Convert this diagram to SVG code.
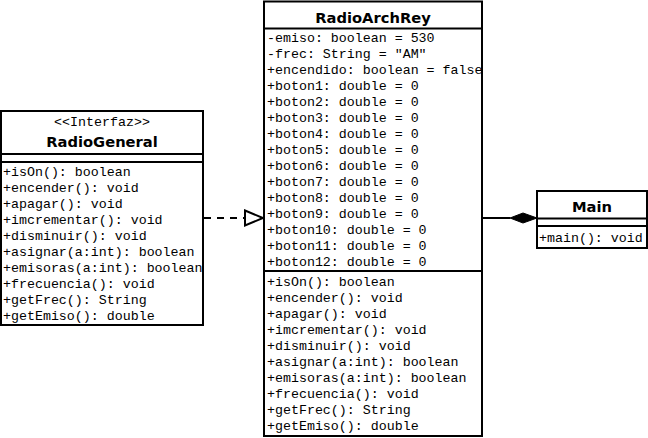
<svg xmlns="http://www.w3.org/2000/svg" width="648" height="438" viewBox="0 0 648 438">
<style>
.box{fill:#fff;stroke:#000;stroke-width:2}
.ln{stroke:#000;stroke-width:2;fill:none}
.m{font-family:"Liberation Mono","Courier New",monospace;font-size:13.3px;fill:#000}
.t{font-family:"DejaVu Sans",Verdana,sans-serif;font-weight:bold;font-size:14.7px;fill:#000;text-anchor:middle}
.c{text-anchor:middle}
</style>
<rect width="648" height="438" fill="#fff"/>
<g id="connectors">
<line class="ln" x1="204" y1="218" x2="245" y2="218" stroke-dasharray="7 6"/>
<polygon points="245,210.5 263,218 245,225.5" fill="#fff" stroke="#000" stroke-width="2"/>
<line class="ln" x1="483" y1="218" x2="510" y2="218"/>
<polygon points="510,218 523,213 537,218 523,223" fill="#000" stroke="#000" stroke-width="1"/>
</g>
<g id="RadioGeneral">
<rect class="box" x="1" y="111" width="202" height="214"/>
<line class="ln" x1="1" y1="154" x2="203" y2="154"/>
<line class="ln" x1="1" y1="162" x2="203" y2="162"/>
<text class="m c" x="102" y="125.5">&lt;&lt;Interfaz&gt;&gt;</text>
<text class="t" x="102" y="146.5">RadioGeneral</text>
<text class="m" x="3" y="176">+isOn(): boolean</text>
<text class="m" x="3" y="192">+encender(): void</text>
<text class="m" x="3" y="208">+apagar(): void</text>
<text class="m" x="3" y="224">+imcrementar(): void</text>
<text class="m" x="3" y="240">+disminuir(): void</text>
<text class="m" x="3" y="256">+asignar(a:int): boolean</text>
<text class="m" x="3" y="272">+emisoras(a:int): boolean</text>
<text class="m" x="3" y="288">+frecuencia(): void</text>
<text class="m" x="3" y="304">+getFrec(): String</text>
<text class="m" x="3" y="320">+getEmiso(): double</text>
</g>
<g id="RadioArchRey">
<rect class="box" x="264" y="1.5" width="218" height="434.5"/>
<line class="ln" x1="264" y1="28.5" x2="482" y2="28.5"/>
<line class="ln" x1="264" y1="271" x2="482" y2="271"/>
<text class="t" x="373" y="23">RadioArchRey</text>
<text class="m" x="267" y="41.5">-emiso: boolean = 530</text>
<text class="m" x="267" y="57.5">-frec: String = "AM"</text>
<text class="m" x="267" y="73.5">+encendido: boolean = false</text>
<text class="m" x="267" y="89.5">+boton1: double = 0</text>
<text class="m" x="267" y="105.5">+boton2: double = 0</text>
<text class="m" x="267" y="121.5">+boton3: double = 0</text>
<text class="m" x="267" y="137.5">+boton4: double = 0</text>
<text class="m" x="267" y="153.5">+boton5: double = 0</text>
<text class="m" x="267" y="169.5">+boton6: double = 0</text>
<text class="m" x="267" y="185.5">+boton7: double = 0</text>
<text class="m" x="267" y="201.5">+boton8: double = 0</text>
<text class="m" x="267" y="217.5">+boton9: double = 0</text>
<text class="m" x="267" y="233.5">+boton10: double = 0</text>
<text class="m" x="267" y="249.5">+boton11: double = 0</text>
<text class="m" x="267" y="265.5">+boton12: double = 0</text>
<text class="m" x="267" y="286">+isOn(): boolean</text>
<text class="m" x="267" y="302">+encender(): void</text>
<text class="m" x="267" y="318">+apagar(): void</text>
<text class="m" x="267" y="334">+imcrementar(): void</text>
<text class="m" x="267" y="350">+disminuir(): void</text>
<text class="m" x="267" y="366">+asignar(a:int): boolean</text>
<text class="m" x="267" y="382">+emisoras(a:int): boolean</text>
<text class="m" x="267" y="398">+frecuencia(): void</text>
<text class="m" x="267" y="414">+getFrec(): String</text>
<text class="m" x="267" y="430">+getEmiso(): double</text>
</g>
<g id="Main">
<rect class="box" x="537" y="191" width="110" height="57"/>
<line class="ln" x1="537" y1="218.5" x2="647" y2="218.5"/>
<line class="ln" x1="537" y1="226" x2="647" y2="226"/>
<text class="t" x="592" y="211.5">Main</text>
<text class="m" x="539" y="241.5">+main(): void</text>
</g>
</svg>
